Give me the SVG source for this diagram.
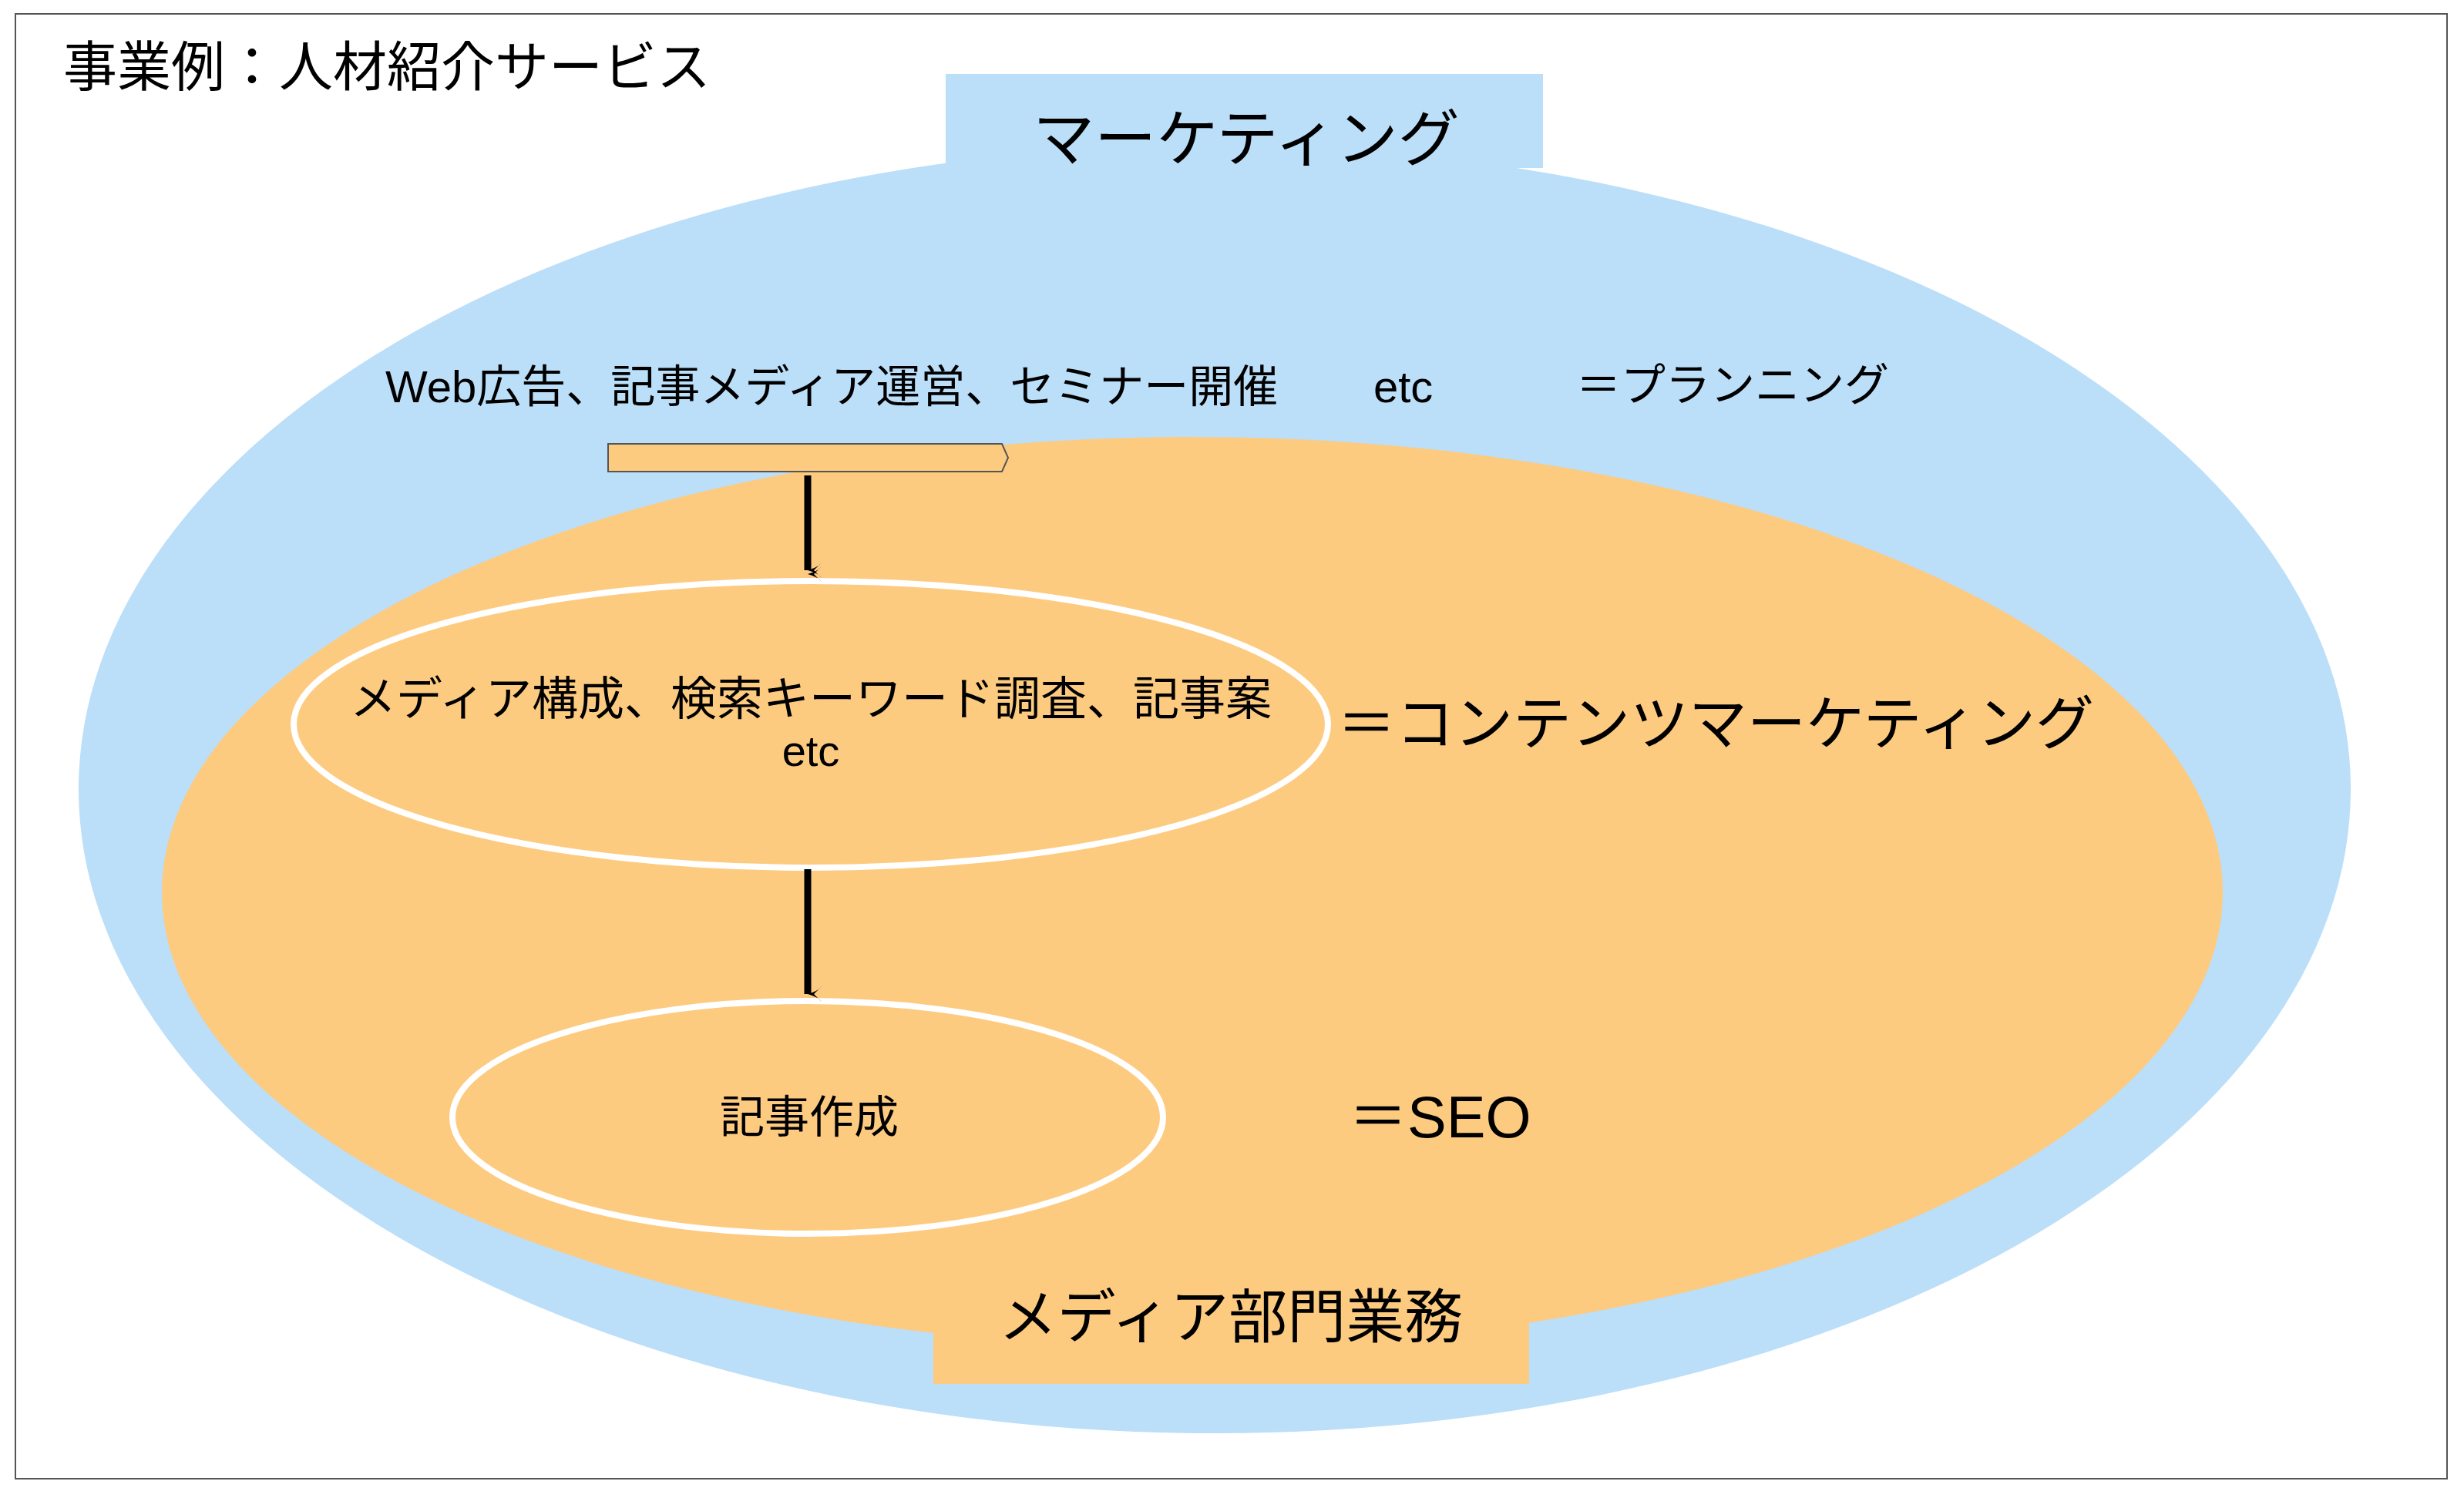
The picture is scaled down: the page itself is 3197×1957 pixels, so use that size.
<svg xmlns="http://www.w3.org/2000/svg" width="3197" height="1957" viewBox="0 0 3197 1957">
<style>
text{font-family:"Liberation Sans","Noto Sans CJK JP",sans-serif;fill:#000}
.w{fill:none;stroke:#fff;stroke-width:8}
</style>
<defs><marker id="ah" viewBox="0 0 20 20" refX="10" refY="18" markerWidth="20" markerHeight="20" markerUnits="userSpaceOnUse" orient="auto-start-reverse"><path d="M0,0 Q6,4 10,18 Q14,4 20,0 L10,10 Z" fill="#000"/></marker></defs>
<rect x="0" y="0" width="3197" height="1957" fill="#fff"/>
<rect x="20" y="18" width="3155" height="1901" fill="#fff" stroke="#555" stroke-width="2"/>
<text x="82" y="112" font-size="70">事業例：人材紹介サービス</text>
<g id="marketing">
<ellipse cx="1576" cy="1024" rx="1474" ry="836" fill="#bbdef9"/>
<rect x="1227" y="96" width="775" height="122" fill="#bbdef9"/>
<text x="1617" y="208" font-size="80" text-anchor="middle">マーケティング</text>
</g>
<g id="media">
<ellipse cx="1547" cy="1158" rx="1337" ry="591" fill="#fdcb80"/>
<rect x="1211" y="1631" width="773" height="165" fill="#fdcb80"/>
<text x="1597" y="1736" font-size="76" text-anchor="middle">メディア部門業務</text>
</g>
<g id="planning">
<text x="500" y="522" font-size="58">Web広告、記事メディア運営、セミナー開催</text>
<text x="1782" y="522" font-size="58">etc</text>
<text x="2045" y="520" font-size="58">＝プランニング</text>
<path d="M789,576 H1300 L1308,594 L1300,612 H789 Z" fill="#fdcb80" stroke="#555" stroke-width="2"/>
</g>
<g id="content">
<ellipse class="w" cx="1052" cy="940" rx="671" ry="186"/>
<text x="1052" y="928" font-size="60" text-anchor="middle">メディア構成、検索キーワード調査、記事案</text>
<text x="1052" y="994" font-size="56" text-anchor="middle">etc</text>
<text x="1735" y="966" font-size="76">＝コンテンツマーケティング</text>
</g>
<g id="seo">
<ellipse class="w" cx="1048" cy="1450" rx="461" ry="151"/>
<text x="1050" y="1470" font-size="58" text-anchor="middle">記事作成</text>
<text x="1750" y="1476" font-size="76">＝SEO</text>
</g>
<g id="connectors" stroke="#000" stroke-width="9" fill="none">
<line x1="1048" y1="574" x2="1048" y2="745" marker-end="url(#ah)" stroke="none"/>
<line x1="1048" y1="617" x2="1048" y2="740" marker-end="url(#ah)"/>
<line x1="1048" y1="1128" x2="1048" y2="1290" marker-end="url(#ah)"/>
</g>
</svg>
